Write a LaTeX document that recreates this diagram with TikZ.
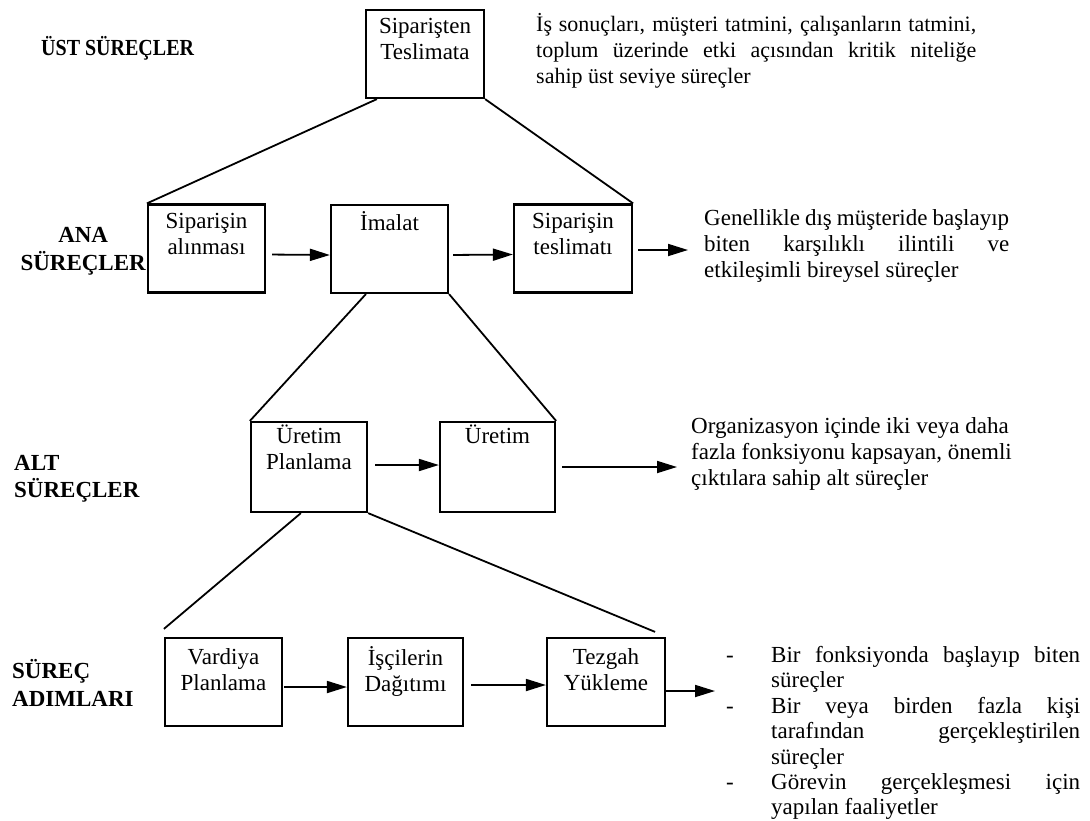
\documentclass[tikz,border=0pt]{standalone}
\usepackage{fontspec}
\usepackage{graphicx}
\setmainfont{Liberation Serif}
\usetikzlibrary{arrows.meta}
% a line stretched to a given width (justified line)
\newcommand\jline[2]{\makebox[#1][s]{#2}}
\begin{document}
\begin{tikzpicture}[x=1pt,y=-1pt,
  every node/.style={font=\fontsize{23}{26}\selectfont, inner sep=0pt},
  stepbox/.style={draw, line width=2.2pt, minimum width=117pt, minimum height=88pt},
  boxtext/.style={anchor=north, align=center},
  conn/.style={line width=1.8pt},
  arr/.style={line width=1.8pt, -{Triangle[length=20pt,width=12pt]}},
  lvl/.style={font=\fontsize{23}{27.5}\selectfont\bfseries},
  desc/.style={align=left, anchor=north west}
]
\useasboundingbox (0,0) rectangle (1090,820);

% level labels
\node[lvl, anchor=west] (L1) at (41,48) {\scalebox{0.87}[1]{ÜST SÜREÇLER}};
\node[lvl, align=center, anchor=east] (L2) at (146,251.5) {ANA\\SÜREÇLER};
\node[lvl, align=left, anchor=west] (L3) at (14,479) {ALT\\SÜREÇLER};
\node[lvl, align=left, anchor=west] (L4) at (12,683) {SÜREÇ\\ADIMLARI};

% process boxes
\node[stepbox, minimum width=118pt] (T) at (425,54) {};
\node[stepbox] (A1) at (206.5,248.5) {};
\node[stepbox] (A2) at (389.5,249) {};
\node[stepbox, minimum width=118pt] (A3) at (573,248.5) {};
\node[stepbox, minimum width=116pt, minimum height=90pt] (B1) at (309,467) {};
\node[stepbox, minimum width=115pt, minimum height=90pt] (B2) at (497.5,467) {};
\node[stepbox] (C1) at (223.5,682) {};
\node[stepbox, minimum width=115pt] (C2) at (405.5,682) {};
\node[stepbox, minimum width=118pt] (C3) at (606,682) {};

% box captions
\node[boxtext] (Tt) at ([yshift=-6pt]T.north) {\strut Siparişten\\Teslimata};
\node[boxtext] (A1t) at ([yshift=-7pt]A1.north) {\strut Siparişin\\alınması};
\node[boxtext] (A2t) at ([yshift=-7pt]A2.north) {\strut İmalat};
\node[boxtext] (A3t) at ([yshift=-7pt]A3.north) {\strut Siparişin\\teslimatı};
\node[boxtext] (B1t) at ([yshift=-4pt]B1.north) {\strut Üretim\\Planlama};
\node[boxtext] (B2t) at ([yshift=-4pt]B2.north) {\strut Üretim};
\node[boxtext] (C1t) at ([yshift=-9pt]C1.north) {\strut Vardiya\\Planlama};
\node[boxtext] (C2t) at ([yshift=-9pt]C2.north) {\strut İşçilerin\\Dağıtımı};
\node[boxtext] (C3t) at ([yshift=-9pt]C3.north) {\strut Tezgah\\Yükleme};

% hierarchy lines
\draw[conn] ([xshift=12pt]T.south west) -- (A1.north west);
\draw[conn] (T.south east) -- (A3.north east);
\draw[conn] ([xshift=36pt]A2.south west) -- (B1.north west);
\draw[conn] (A2.south east) -- (B2.north east);
\draw[conn] ([xshift=51pt]B1.south west) -- ([yshift=8pt]C1.north west);
\draw[conn] (B1.south east) -- ([shift={(-11pt,5pt)}]C3.north east);

% flow arrows
\coordinate (A3o) at (688,250);
\coordinate (B2o) at (677,467);
\coordinate (C3o) at (715,691);
\draw[arr, shorten <=6pt] ([yshift=-6pt]A1.east) -- ([yshift=-6pt]A2.west);
\draw[arr, shorten <=4pt] ([yshift=-6pt]A2.east) -- ([yshift=-6pt]A3.west);
\draw[arr, shorten <=5pt] (A3.east |- A3o) -- (A3o);
\draw[arr, shorten <=7pt] ([yshift=2pt]B1.east) -- ([yshift=2pt]B2.west);
\draw[arr, shorten <=6pt] (B2.east |- B2o) -- (B2o);
\draw[arr, shorten <=1pt] ([yshift=-5pt]C1.east) -- ([yshift=-5pt]C2.west);
\draw[arr, shorten <=7pt] ([yshift=-3pt]C2.east) -- ([yshift=-3pt]C3.west);
\draw[arr] (C3.east |- C3o) -- (C3o);

% descriptions
\node[desc, font=\fontsize{22}{26}\selectfont] (D1) at (536,13) {\strut\jline{440pt}{İş sonuçları, müşteri tatmini, çalışanların tatmini,}\\
  \jline{440pt}{toplum üzerinde etki açısından kritik niteliğe}\\
  sahip üst seviye süreçler};
\node[desc] (D2) at (704,207) {\strut\jline{305pt}{Genellikle dış müşteride başlayıp}\\
  \jline{305pt}{biten karşılıklı ilintili ve}\\
  etkileşimli bireysel süreçler};
\node[desc] (D3) at (691,415) {\strut Organizasyon içinde iki veya daha\\
  fazla fonksiyonu kapsayan, önemli\\
  çıktılara sahip alt süreçler};
\node[desc, font=\fontsize{23}{25.4}\selectfont] (D4) at (726,644.5) {\strut\makebox[45pt][l]{-}\jline{309pt}{Bir fonksiyonda başlayıp biten}\\
  \hspace*{45pt}süreçler\\
  \makebox[45pt][l]{-}\jline{309pt}{Bir veya birden fazla kişi}\\
  \hspace*{45pt}\jline{309pt}{tarafından gerçekleştirilen}\\
  \hspace*{45pt}süreçler\\
  \makebox[45pt][l]{-}\jline{309pt}{Görevin gerçekleşmesi için}\\
  \hspace*{45pt}yapılan faaliyetler};
\end{tikzpicture}
\end{document}
